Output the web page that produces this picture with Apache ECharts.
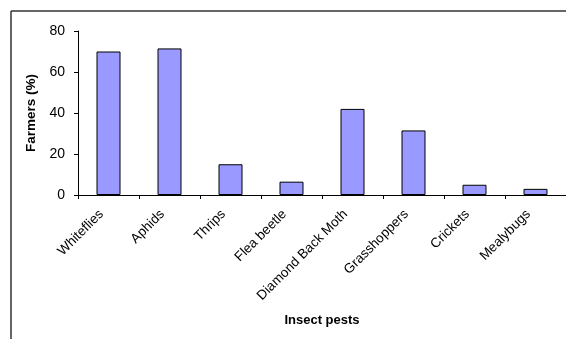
<!DOCTYPE html>
<html>
<head>
<meta charset="utf-8">
<script src="https://cdn.jsdelivr.net/npm/echarts@6/dist/echarts.min.js"></script>
<style>
  html, body { margin: 0; padding: 0; background: #fff; }
  #chart { width: 566px; height: 339px; }
</style>
</head>
<body>
<div id="chart"></div>
<script>
// Insect pests reported by farmers
const categories = ['Whiteflies', 'Aphids', 'Thrips', 'Flea beetle', 'Diamond Back Moth', 'Grasshoppers', 'Crickets', 'Mealybugs'];
const farmersPct = [70, 71.5, 15, 6.5, 42, 31.5, 5, 3];
const yTicks = [0, 20, 40, 60, 80];

const chart = echarts.init(document.getElementById('chart'), null, { renderer: 'canvas' });
const font = 'Arial, "Liberation Sans", sans-serif';

chart.setOption({
  animation: false,
  backgroundColor: '#fff',
  // chart-area border: only the top and left edges fall inside the view
  graphic: [
    { type: 'line', shape: { x1: 11, y1: 11, x2: 566, y2: 11 },
      style: { stroke: '#333', lineWidth: 1.5 }, silent: true },
    { type: 'line', shape: { x1: 11, y1: 11, x2: 11, y2: 339 },
      style: { stroke: '#333', lineWidth: 1.5 }, silent: true }
  ],
  grid: { left: 78, top: 31, width: 490, height: 164, containLabel: false },
  xAxis: {
    type: 'category',
    data: categories,
    name: 'Insect pests',
    nameLocation: 'middle',
    nameGap: 119,
    nameTextStyle: { fontFamily: font, fontSize: 13, fontWeight: 'bold', color: '#000' },
    axisLine: { lineStyle: { color: '#000', width: 1 } },
    axisTick: { show: true, alignWithLabel: false, length: 4, lineStyle: { color: '#000' } },
    axisLabel: { rotate: 45, fontFamily: font, fontSize: 13.5, color: '#000', margin: 10, padding: [0, 10, 0, 0], interval: 0 }
  },
  yAxis: {
    type: 'value',
    min: yTicks[0],
    max: yTicks[yTicks.length - 1],
    interval: 20,
    name: 'Farmers (%)',
    nameLocation: 'middle',
    nameGap: 38,
    nameRotate: 90,
    nameTextStyle: { fontFamily: font, fontSize: 13.5, fontWeight: 'bold', color: '#000' },
    axisLine: { show: true, lineStyle: { color: '#000', width: 1 } },
    axisTick: { show: true, length: 4, lineStyle: { color: '#000' } },
    axisLabel: { fontFamily: font, fontSize: 14, color: '#000', margin: 13 },
    splitLine: { show: false }
  },
  series: [{
    type: 'bar',
    data: farmersPct,
    barWidth: 24,
    itemStyle: { color: '#9999ff', borderColor: '#000', borderWidth: 1 }
  }]
});
</script>
</body>
</html>
